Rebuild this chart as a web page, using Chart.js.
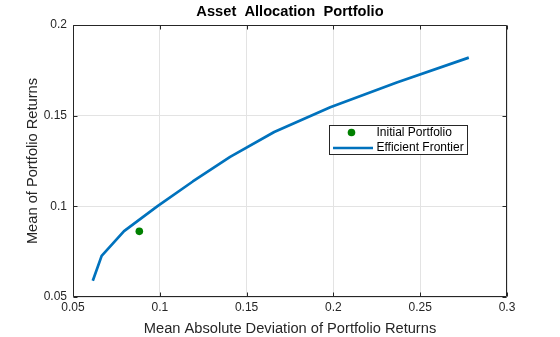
<!DOCTYPE html>
<html>
<head>
<meta charset="utf-8">
<script src="https://cdn.jsdelivr.net/npm/chart.js@4/dist/chart.umd.min.js"></script>
<style>
  html, body { margin: 0; padding: 0; background: #fff; }
  #wrap { width: 560px; height: 337px; }
</style>
</head>
<body>
<div id="wrap"><canvas id="c" width="560" height="337"></canvas></div>
<script>
// Efficient frontier: mean absolute deviation vs. mean return
const frontierRisk   = [0.0614, 0.0665, 0.0794, 0.0985, 0.1190, 0.1405, 0.1659, 0.1982, 0.2365, 0.2780];
const frontierReturn = [0.0590, 0.0727, 0.0863, 0.1000, 0.1137, 0.1273, 0.1410, 0.1547, 0.1683, 0.1820];

// Starting portfolio
const initialRisk   = [0.0882];
const initialReturn = [0.0862];

// Axis ticks
const xTickValues = [0.05, 0.1, 0.15, 0.2, 0.25, 0.3];
const xTickLabels = ['0.05', '0.1', '0.15', '0.2', '0.25', '0.3'];
const yTickValues = [0.05, 0.1, 0.15, 0.2];
const yTickLabels = ['0.05', '0.1', '0.15', '0.2'];

const seriesNames = ['Initial Portfolio', 'Efficient Frontier'];

const AXIS_COLOR = '#262626';
const FONT = 'Arial, "Liberation Sans", Helvetica, sans-serif';

// Closed axes box with inward-pointing tick marks
const boxPlugin = {
  id: 'axesBox',
  afterDatasetsDraw(chart) {
    const { ctx, chartArea: a, scales } = chart;
    const L = Math.round(a.left) + 0.5, R = Math.round(a.right) - 0.5;
    const T = Math.round(a.top) + 0.5, B = Math.round(a.bottom) - 0.5;
    const tl = 4;
    ctx.save();
    ctx.strokeStyle = AXIS_COLOR;
    ctx.lineWidth = 1;
    ctx.beginPath();
    ctx.rect(L, T, R - L, B - T);
    scales.x.ticks.forEach(t => {
      const px = Math.round(scales.x.getPixelForValue(t.value)) + 0.5;
      ctx.moveTo(px, B); ctx.lineTo(px, B - tl);
      ctx.moveTo(px, T); ctx.lineTo(px, T + tl);
    });
    scales.y.ticks.forEach(t => {
      const py = Math.round(scales.y.getPixelForValue(t.value)) + 0.5;
      ctx.moveTo(L, py); ctx.lineTo(L + tl, py);
      ctx.moveTo(R, py); ctx.lineTo(R - tl, py);
    });
    ctx.stroke();
    ctx.restore();
  }
};

// Boxed legend placed inside the plot area
const innerLegendPlugin = {
  id: 'innerLegend',
  afterDraw(chart) {
    const { ctx, chartArea: a } = chart;
    const x0 = a.left + 256.5, y0 = a.top + 100.5, w = 138, h = 29;
    ctx.save();
    ctx.fillStyle = '#ffffff';
    ctx.fillRect(x0, y0, w, h);
    ctx.strokeStyle = AXIS_COLOR;
    ctx.lineWidth = 1;
    ctx.strokeRect(x0, y0, w, h);
    ctx.font = '12px ' + FONT;
    ctx.textBaseline = 'middle';
    ctx.textAlign = 'left';
    chart.data.datasets.forEach((ds, i) => {
      const cy = y0 + 7 + i * 15.5;
      if (ds.showLine) {
        ctx.strokeStyle = ds.borderColor;
        ctx.lineWidth = ds.borderWidth;
        ctx.beginPath();
        ctx.moveTo(x0 + 3.5, cy);
        ctx.lineTo(x0 + 43.5, cy);
        ctx.stroke();
      } else {
        ctx.fillStyle = ds.backgroundColor;
        ctx.beginPath();
        ctx.arc(x0 + 22, cy, ds.pointRadius, 0, Math.PI * 2);
        ctx.fill();
      }
      ctx.fillStyle = '#000000';
      ctx.fillText(ds.label, x0 + 47, cy);
    });
    ctx.restore();
  }
};

new Chart(document.getElementById('c'), {
  type: 'scatter',
  data: {
    datasets: [
      {
        label: seriesNames[0],
        data: initialRisk.map((x, i) => ({ x, y: initialReturn[i] })),
        backgroundColor: 'rgb(0,128,0)',
        borderColor: 'rgb(0,128,0)',
        pointRadius: 3.8,
        pointBorderWidth: 0,
        showLine: false
      },
      {
        label: seriesNames[1],
        data: frontierRisk.map((x, i) => ({ x, y: frontierReturn[i] })),
        borderColor: '#0072BD',
        backgroundColor: '#0072BD',
        borderWidth: 2.7,
        pointRadius: 0,
        showLine: true,
        tension: 0,
        borderJoinStyle: 'round',
        borderCapStyle: 'butt'
      }
    ]
  },
  options: {
    responsive: false,
    animation: false,
    devicePixelRatio: 1,
    layout: { padding: { top: 0, right: 53, bottom: 0, left: 0 } },
    plugins: {
      legend: { display: false },
      tooltip: { enabled: false },
      title: {
        display: true,
        text: 'Asset  Allocation  Portfolio',
        fullSize: false,
        color: '#000000',
        font: { family: FONT, size: 14.67, weight: 'bold', lineHeight: 1 },
        padding: { top: 5, bottom: 5.33 }
      }
    },
    scales: {
      x: {
        type: 'linear',
        min: 0.05,
        max: 0.3,
        afterBuildTicks: s => { s.ticks = xTickValues.map(v => ({ value: v })); },
        afterFit: s => { s.height = 40; },
        ticks: {
          autoSkip: false,
          maxRotation: 0,
          padding: 3,
          color: AXIS_COLOR,
          font: { family: FONT, size: 12 },
          callback: v => xTickLabels[xTickValues.findIndex(t => Math.abs(t - v) < 1e-9)]
        },
        grid: { color: '#e3e3e3', lineWidth: 1, drawTicks: false },
        border: { display: false },
        title: {
          display: true,
          text: 'Mean Absolute Deviation of Portfolio Returns',
          color: AXIS_COLOR,
          font: { family: FONT, size: 14.67, lineHeight: 1 },
          padding: { top: 0, bottom: 0.5 }
        }
      },
      y: {
        type: 'linear',
        min: 0.05,
        max: 0.2,
        afterBuildTicks: s => { s.ticks = yTickValues.map(v => ({ value: v })); },
        afterFit: s => { s.width = 73; },
        ticks: {
          autoSkip: false,
          padding: 6,
          color: AXIS_COLOR,
          font: { family: FONT, size: 12 },
          callback: v => yTickLabels[yTickValues.findIndex(t => Math.abs(t - v) < 1e-9)]
        },
        grid: { color: '#e3e3e3', lineWidth: 1, drawTicks: false },
        border: { display: false },
        title: {
          display: true,
          text: 'Mean of Portfolio Returns',
          color: AXIS_COLOR,
          font: { family: FONT, size: 14.67, lineHeight: 1 },
          padding: { top: 25.5, bottom: 0 }
        }
      }
    }
  },
  plugins: [boxPlugin, innerLegendPlugin]
});
</script>
</body>
</html>
